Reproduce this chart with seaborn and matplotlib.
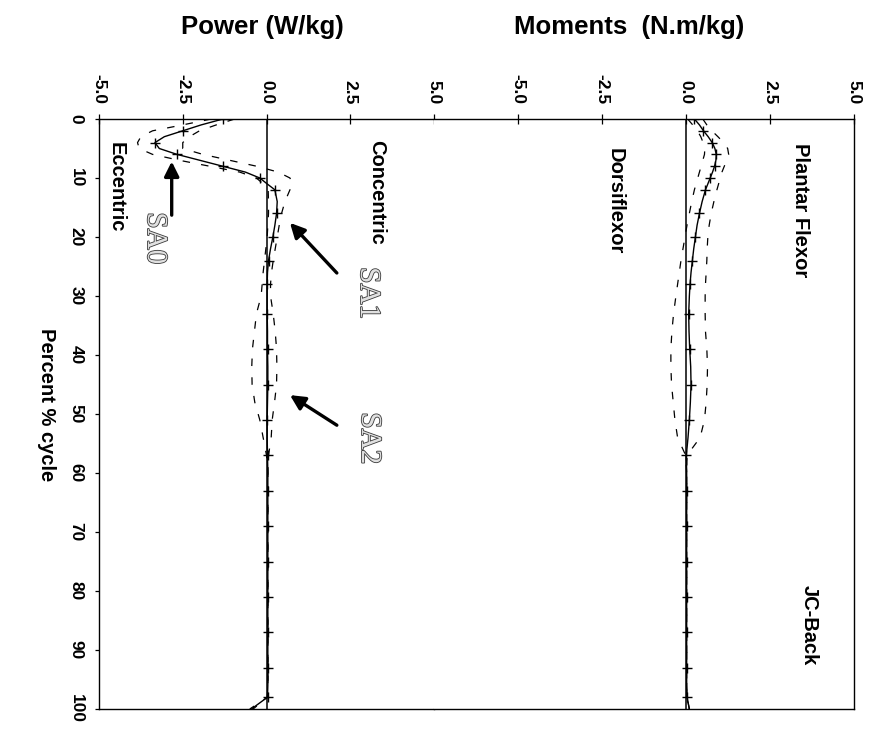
import matplotlib
matplotlib.use("Agg")
import matplotlib.pyplot as plt
import matplotlib.patheffects as pe
import seaborn as sns
import pandas as pd

# ---------------- data ----------------
pct = [0, 1, 2, 3, 4, 5, 6, 7, 8, 9, 10, 11, 12,
       14, 16, 18, 20, 22, 24, 26, 28, 30,
       33, 36, 39, 42, 45, 48, 51, 54, 57, 60, 63, 66, 69, 72, 75, 78, 81, 84, 87, 90, 93, 96,
       98, 100]

power_mean = [-1.30, -1.95, -2.50, -3.05, -3.33, -3.20, -2.67, -1.99, -1.31, -0.63, -0.20, 0.02, 0.25,
              0.32, 0.30, 0.25, 0.19, 0.12, 0.06, 0.03, 0.02, 0.02,
              0.02, 0.03, 0.03, 0.04, 0.04, 0.03, 0.02, 0.02, 0.03, 0.04, 0.04, 0.04, 0.04, 0.04, 0.04,
              0.04, 0.04, 0.04, 0.04, 0.04, 0.04, 0.04,
              0.03, -0.45]
power_upper = [-0.95, -1.50, -2.00, -2.30, -2.50, -2.50, -1.90, -1.10, -0.30, 0.35, 0.70, 0.78, 0.70,
               0.55, 0.45, 0.38, 0.32, 0.26, 0.20, 0.15, 0.12, 0.12,
               0.20, 0.26, 0.30, 0.31, 0.30, 0.24, 0.17, 0.14, 0.06, 0.04, 0.04, 0.04, 0.04, 0.04, 0.04,
               0.04, 0.04, 0.04, 0.04, 0.04, 0.04, 0.04,
               0.03, -0.40]
power_lower = [-1.65, -2.50, -3.40, -3.75, -3.85, -3.80, -3.40, -2.60, -1.70, -0.80, -0.30, -0.10, 0.05,
               0.06, 0.06, 0.04, 0.02, -0.02, -0.06, -0.10, -0.13, -0.16,
               -0.30, -0.36, -0.42, -0.44, -0.43, -0.35, -0.20, -0.10, 0.00, 0.04, 0.04, 0.04, 0.04, 0.04,
               0.04, 0.04, 0.04, 0.04, 0.04, 0.04, 0.04, 0.04,
               0.03, -0.50]

moment_mean = [0.25, 0.40, 0.52, 0.66, 0.78, 0.86, 0.90, 0.89, 0.85, 0.79, 0.72, 0.65, 0.58,
               0.48, 0.40, 0.33, 0.28, 0.23, 0.19, 0.15, 0.12, 0.10,
               0.08, 0.09, 0.11, 0.14, 0.15, 0.13, 0.10, 0.06, 0.01, 0.02, 0.02, 0.02, 0.02, 0.02, 0.02,
               0.02, 0.02, 0.02, 0.02, 0.02, 0.02, 0.02,
               0.03, 0.10]
moment_upper = [0.50, 0.62, 0.77, 0.95, 1.12, 1.24, 1.27, 1.22, 1.14, 1.07, 1.02, 0.97, 0.92,
                0.83, 0.75, 0.69, 0.65, 0.63, 0.62, 0.60, 0.58, 0.57,
                0.57, 0.58, 0.62, 0.64, 0.63, 0.60, 0.55, 0.42, 0.03, 0.02, 0.02, 0.02, 0.02, 0.02, 0.02,
                0.02, 0.02, 0.02, 0.02, 0.02, 0.02, 0.02,
                0.03, 0.10]
moment_lower = [0.05, 0.20, 0.34, 0.44, 0.51, 0.56, 0.55, 0.50, 0.45, 0.40, 0.35, 0.30, 0.25,
                0.17, 0.10, 0.03, -0.03, -0.09, -0.15, -0.20, -0.25, -0.30,
                -0.37, -0.42, -0.45, -0.45, -0.43, -0.38, -0.33, -0.25, -0.01, 0.02, 0.02, 0.02, 0.02, 0.02,
                0.02, 0.02, 0.02, 0.02, 0.02, 0.02, 0.02, 0.02,
                0.03, 0.10]

value_ticks = [-5.0, -2.5, 0.0, 2.5, 5.0]
pct_ticks = [0, 10, 20, 30, 40, 50, 60, 70, 80, 90, 100]

# ---------------- style ----------------
sns.set_theme(style="white")
plt.rcParams["font.family"] = ["Liberation Sans", "DejaVu Sans"]
plt.rcParams["font.weight"] = "bold"
plt.rcParams["text.color"] = "black"
plt.rcParams["xtick.color"] = "black"
plt.rcParams["ytick.color"] = "black"

fig = plt.figure(figsize=(8.8, 7.36), dpi=100)
ax1 = fig.add_axes([99 / 880, 1 - 709 / 736, 335 / 880, 590 / 736])
ax2 = fig.add_axes([434 / 880, 1 - 709 / 736, 420 / 880, 590 / 736])

df_p = pd.DataFrame({"pct": pct, "mean": power_mean, "up": power_upper, "lo": power_lower})
df_m = pd.DataFrame({"pct": pct, "mean": moment_mean, "up": moment_upper, "lo": moment_lower})

dash = (0, (6, 9))
for ax, df in ((ax1, df_p), (ax2, df_m)):
    ax.axvline(0, color="black", lw=1.1, zorder=1)
    sns.lineplot(data=df, x="up", y="pct", orient="y", ax=ax, color="black",
                 lw=0.9, linestyle=dash, errorbar=None)
    sns.lineplot(data=df, x="lo", y="pct", orient="y", ax=ax, color="black",
                 lw=0.9, linestyle=dash, errorbar=None)
    sns.lineplot(data=df, x="mean", y="pct", orient="y", ax=ax, color="black",
                 lw=1.0, marker="+", markersize=7, markeredgewidth=1.0,
                 markeredgecolor="black", markevery=2, errorbar=None)

ax1.set_xlim(-5, 5)
ax2.set_xlim(-7.5, 5)
for ax in (ax1, ax2):
    ax.set_ylim(100, 0)
    ax.set_xlabel("")
    ax.set_ylabel("")
    ax.xaxis.tick_top()
    ax.set_xticks(value_ticks)
    ax.set_xticklabels([f"{v:.1f}" for v in value_ticks], rotation=-90,
                       fontsize=12.5, fontweight="bold")
    ax.tick_params(axis="x", direction="inout", length=7, width=0.9, pad=7,
                   top=True, bottom=False, colors="black")
    for s in ax.spines.values():
        s.set_color("black")
        s.set_linewidth(1.0)

ax1.spines["right"].set_visible(False)
ax2.spines["left"].set_visible(False)
ax1.set_yticks(pct_ticks)
ax1.set_yticklabels([str(v) for v in pct_ticks], rotation=-90, va="center",
                    fontsize=12.5, fontweight="bold")
ax1.tick_params(axis="y", direction="out", length=3, width=0.9, pad=8, left=True,
                colors="black")
ax2.set_yticks([])

# in-plot texts
txt_kw = dict(rotation=-90, ha="center", va="center", fontsize=14.5, fontweight="bold",
              color="black")
ax1.text(-4.49, 11.5, "Eccentric", **txt_kw)
ax1.text(3.30, 12.5, "Concentric", **txt_kw)
ax2.text(-2.11, 13.9, "Dorsiflexor", **txt_kw)
ax2.text(3.42, 15.4, "Plantar Flexor", **txt_kw)
ax2.text(3.66, 85.8, "JC-Back", **txt_kw)

# SA annotations
sa_kw = dict(rotation=-90, ha="center", va="center", fontsize=21,
             family=["Liberation Serif", "DejaVu Serif"], fontweight="normal",
             color="#e0e0e0",
             path_effects=[pe.withStroke(linewidth=1.2, foreground="#3a3a3a")])
arrow = dict(arrowstyle="-|>", color="black", lw=2.4, mutation_scale=22, shrinkA=0, shrinkB=0)
ax1.annotate("", xy=(-2.83, 7.2), xytext=(-2.83, 16.3), arrowprops=arrow)
ax1.text(-3.33, 20.2, "SA0", **sa_kw)
ax1.annotate("", xy=(0.70, 17.6), xytext=(2.10, 26.1), arrowprops=arrow)
ax1.text(3.03, 29.5, "SA1", **sa_kw)
ax1.annotate("", xy=(0.70, 46.8), xytext=(2.10, 51.9), arrowprops=arrow)
ax1.text(3.06, 54.1, "SA2", **sa_kw)

# titles
fig.text(262 / 880, 1 - 27 / 736, "Power (W/kg)", ha="center", va="center",
         fontsize=18.5, fontweight="bold", color="black")
fig.text(629 / 880, 1 - 27 / 736, "Moments  (N.m/kg)", ha="center", va="center",
         fontsize=18.5, fontweight="bold", color="black")
fig.text(46 / 880, 1 - 405 / 736, "Percent % cycle", rotation=-90, ha="center",
         va="center", fontsize=14.5, fontweight="bold", color="black")

fig.savefig("out.png", dpi=100)
